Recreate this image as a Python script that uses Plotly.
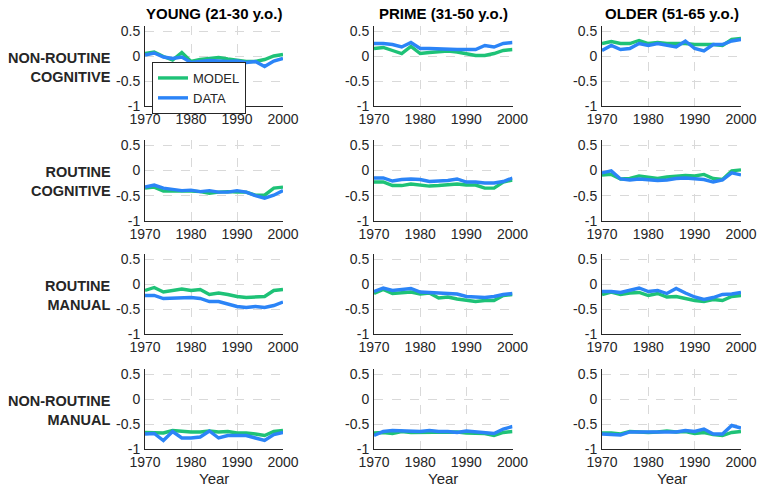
import plotly.graph_objects as go

years = list(range(1970, 2001, 2))

col_titles = ["YOUNG (21-30 y.o.)", "PRIME (31-50 y.o.)", "OLDER (51-65 y.o.)"]
row_labels = ["NON-ROUTINE<br>COGNITIVE", "ROUTINE<br>COGNITIVE", "ROUTINE<br>MANUAL", "NON-ROUTINE<br>MANUAL"]

x_ticks = [1970, 1980, 1990, 2000]
x_ticktext = ["1970", "1980", "1990", "2000"]
y_ticks = [-1, -0.5, 0, 0.5]
y_ticktext = ["-1", "-0.5", "0", "0.5"]

# Row 1: non-routine cognitive
young_nrc_model = [0.05, 0.08, -0.01, -0.08, 0.07, -0.11, -0.07, -0.05, -0.03, -0.06, -0.09, -0.11, -0.11, -0.07, 0.00, 0.03]
young_nrc_data = [0.02, 0.06, -0.02, -0.05, -0.02, -0.13, -0.11, -0.09, -0.10, -0.11, -0.10, -0.13, -0.11, -0.21, -0.10, -0.05]
prime_nrc_model = [0.15, 0.17, 0.11, 0.05, 0.19, 0.05, 0.07, 0.08, 0.10, 0.08, 0.05, 0.01, 0.01, 0.05, 0.11, 0.13]
prime_nrc_data = [0.25, 0.25, 0.23, 0.18, 0.27, 0.15, 0.15, 0.14, 0.13, 0.13, 0.13, 0.13, 0.21, 0.18, 0.25, 0.27]
older_nrc_model = [0.25, 0.29, 0.25, 0.25, 0.31, 0.25, 0.27, 0.25, 0.25, 0.25, 0.23, 0.23, 0.23, 0.21, 0.33, 0.35]
older_nrc_data = [0.11, 0.21, 0.13, 0.15, 0.25, 0.21, 0.25, 0.21, 0.18, 0.30, 0.15, 0.10, 0.23, 0.23, 0.30, 0.33]

# Row 2: routine cognitive
young_rc_model = [-0.35, -0.33, -0.41, -0.41, -0.40, -0.41, -0.42, -0.45, -0.43, -0.42, -0.43, -0.43, -0.49, -0.49, -0.35, -0.33]
young_rc_data = [-0.33, -0.29, -0.35, -0.38, -0.40, -0.39, -0.42, -0.40, -0.43, -0.43, -0.40, -0.43, -0.50, -0.55, -0.49, -0.40]
prime_rc_model = [-0.23, -0.23, -0.30, -0.30, -0.27, -0.29, -0.31, -0.30, -0.28, -0.27, -0.29, -0.29, -0.35, -0.35, -0.23, -0.19]
prime_rc_data = [-0.15, -0.15, -0.21, -0.18, -0.17, -0.18, -0.22, -0.21, -0.20, -0.17, -0.23, -0.23, -0.25, -0.25, -0.22, -0.15]
older_rc_model = [-0.09, -0.08, -0.17, -0.16, -0.11, -0.13, -0.16, -0.13, -0.11, -0.10, -0.11, -0.08, -0.16, -0.18, -0.01, 0.01]
older_rc_data = [-0.05, -0.01, -0.17, -0.19, -0.17, -0.19, -0.20, -0.19, -0.16, -0.15, -0.16, -0.18, -0.23, -0.19, -0.05, -0.09]

# Row 3: routine manual
young_rm_model = [-0.13, -0.07, -0.16, -0.13, -0.10, -0.13, -0.11, -0.21, -0.18, -0.21, -0.25, -0.27, -0.26, -0.25, -0.13, -0.11]
young_rm_data = [-0.23, -0.23, -0.29, -0.28, -0.27, -0.27, -0.29, -0.35, -0.35, -0.40, -0.45, -0.47, -0.45, -0.47, -0.43, -0.36]
prime_rm_model = [-0.19, -0.11, -0.19, -0.17, -0.16, -0.20, -0.18, -0.28, -0.26, -0.30, -0.33, -0.35, -0.33, -0.33, -0.23, -0.21]
prime_rm_data = [-0.15, -0.08, -0.13, -0.11, -0.09, -0.16, -0.17, -0.18, -0.18, -0.20, -0.25, -0.26, -0.27, -0.25, -0.21, -0.19]
older_rm_model = [-0.21, -0.16, -0.21, -0.18, -0.17, -0.23, -0.19, -0.26, -0.25, -0.29, -0.33, -0.35, -0.31, -0.33, -0.25, -0.23]
older_rm_data = [-0.15, -0.15, -0.17, -0.13, -0.08, -0.15, -0.13, -0.19, -0.09, -0.18, -0.26, -0.31, -0.27, -0.21, -0.20, -0.17]

# Row 4: non-routine manual
young_nrm_model = [-0.67, -0.67, -0.68, -0.63, -0.65, -0.66, -0.66, -0.64, -0.66, -0.65, -0.68, -0.68, -0.70, -0.73, -0.65, -0.63]
young_nrm_data = [-0.70, -0.69, -0.83, -0.65, -0.78, -0.78, -0.76, -0.64, -0.78, -0.73, -0.73, -0.73, -0.78, -0.83, -0.71, -0.67]
prime_nrm_model = [-0.68, -0.67, -0.69, -0.65, -0.67, -0.67, -0.66, -0.67, -0.67, -0.66, -0.68, -0.68, -0.69, -0.73, -0.67, -0.65]
prime_nrm_data = [-0.73, -0.65, -0.63, -0.64, -0.65, -0.65, -0.63, -0.65, -0.65, -0.67, -0.64, -0.66, -0.68, -0.69, -0.60, -0.55]
older_nrm_model = [-0.68, -0.68, -0.70, -0.65, -0.66, -0.67, -0.66, -0.64, -0.66, -0.65, -0.69, -0.67, -0.71, -0.73, -0.67, -0.65]
older_nrm_data = [-0.70, -0.71, -0.72, -0.66, -0.66, -0.67, -0.67, -0.67, -0.66, -0.63, -0.65, -0.60, -0.70, -0.70, -0.53, -0.58]

model_grid = [
    [young_nrc_model, prime_nrc_model, older_nrc_model],
    [young_rc_model, prime_rc_model, older_rc_model],
    [young_rm_model, prime_rm_model, older_rm_model],
    [young_nrm_model, prime_nrm_model, older_nrm_model],
]
data_grid = [
    [young_nrc_data, prime_nrc_data, older_nrc_data],
    [young_rc_data, prime_rc_data, older_rc_data],
    [young_rm_data, prime_rm_data, older_rm_data],
    [young_nrm_data, prime_nrm_data, older_nrm_data],
]

W, H = 758, 488
GREEN = "#1ec277"
BLUE = "#2b84f7"
FONT = "Liberation Sans, Arial, Helvetica, sans-serif"
TXT = "#262626"

col_px = [(145, 283), (374, 512.5), (602, 741)]
row_px = [(26, 106), (140, 221), (254, 334), (369, 449)]

fig = go.Figure()
layout = dict(
    width=W, height=H, margin=dict(l=0, r=0, t=0, b=0, autoexpand=False),
    plot_bgcolor="white", paper_bgcolor="white",
    font=dict(family=FONT, size=14, color=TXT),
    showlegend=True,
    legend=dict(x=152 / W, y=1 - 62 / H, xanchor="left", yanchor="top",
                bgcolor="white", bordercolor="#262626", borderwidth=1,
                font=dict(size=13, color=TXT), tracegroupgap=0,
                itemwidth=30),
)
annotations = []
k = 0
for r in range(4):
    for c in range(3):
        k += 1
        xa = "x" if k == 1 else f"x{k}"
        ya = "y" if k == 1 else f"y{k}"
        xkey = "xaxis" if k == 1 else f"xaxis{k}"
        ykey = "yaxis" if k == 1 else f"yaxis{k}"
        x0, x1 = col_px[c]
        y0, y1 = row_px[r]
        layout[xkey] = dict(
            domain=[x0 / W, x1 / W], anchor=ya, range=[1970, 2000],
            tickvals=x_ticks, ticktext=x_ticktext, showgrid=True,
            gridcolor="#d9d9d9", griddash="dash", gridwidth=1,
            showline=True, linecolor="#262626", linewidth=1, ticks="",
            zeroline=False, tickfont=dict(size=14, color=TXT),
            ticklabelstandoff=0,
        )
        layout[ykey] = dict(
            domain=[1 - y1 / H, 1 - y0 / H], anchor=xa, range=[-1, 0.6],
            tickvals=y_ticks, ticktext=y_ticktext, showgrid=True,
            gridcolor="#d9d9d9", griddash="dash", gridwidth=1,
            showline=True, linecolor="#262626", linewidth=1, ticks="",
            zeroline=False, tickfont=dict(size=14, color=TXT),
            ticklabelstandoff=1,
        )
        first = (r == 0 and c == 0)
        fig.add_trace(go.Scatter(x=years, y=model_grid[r][c], mode="lines",
                                 line=dict(color=GREEN, width=3.4), name="MODEL",
                                 showlegend=first, xaxis=xa, yaxis=ya))
        fig.add_trace(go.Scatter(x=years, y=data_grid[r][c], mode="lines",
                                 line=dict(color=BLUE, width=3.4), name="DATA",
                                 showlegend=first, xaxis=xa, yaxis=ya))
        if r == 3:
            annotations.append(dict(text="Year", x=(x0 + x1) / 2 / W, y=1 - 478 / H,
                                    xref="paper", yref="paper", showarrow=False,
                                    xanchor="center", yanchor="middle",
                                    font=dict(size=15, color=TXT)))
    yc = (row_px[r][0] + row_px[r][1]) / 2 + 1
    annotations.append(dict(text="<b>" + row_labels[r] + "</b>", x=113 / W, y=1 - yc / H,
                            xref="paper", yref="paper", showarrow=False,
                            xanchor="right", yanchor="middle", align="right",
                            font=dict(size=14.5, color=TXT)))

for c in range(3):
    x0, x1 = col_px[c]
    annotations.append(dict(text="<b>" + col_titles[c] + "</b>", x=(x0 + x1) / 2 / W,
                            y=1 - 13 / H, xref="paper", yref="paper", showarrow=False,
                            xanchor="center", yanchor="middle",
                            font=dict(size=15, color="#000000")))

layout["annotations"] = annotations
fig.update_layout(**layout)
fig.write_html("out.html", config={"displayModeBar": False},
               post_script="document.body.style.margin='0';document.body.style.overflow='hidden';")
